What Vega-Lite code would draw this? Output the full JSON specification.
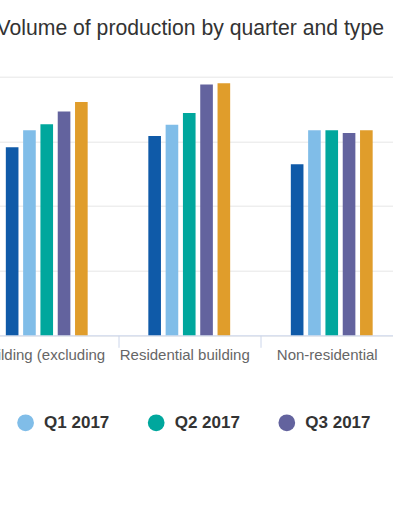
{
  "$schema": "https://vega.github.io/schema/vega-lite/v6.json",
  "autosize": "none",
  "width": 427.5,
  "height": 258.6,
  "padding": {"left": -24.5, "top": 76.7, "right": 0, "bottom": 171.7},
  "background": "white",
  "title": {
    "text": "Volume of production by quarter and type",
    "anchor": "middle",
    "font": "Liberation Sans",
    "fontSize": 21.2,
    "fontWeight": "normal",
    "color": "#333333",
    "baseline": "alphabetic",
    "offset": 20,
    "dx": 1
  },
  "data": {
    "values": [
      {"type": "Building (excluding", "quarter": "Q4 2016", "volume": 145.4},
      {"type": "Building (excluding", "quarter": "Q1 2017", "volume": 158.6},
      {"type": "Building (excluding", "quarter": "Q2 2017", "volume": 163.2},
      {"type": "Building (excluding", "quarter": "Q3 2017", "volume": 173.0},
      {"type": "Building (excluding", "quarter": "Q4 2017", "volume": 180.5},
      {"type": "Residential building", "quarter": "Q4 2016", "volume": 154.2},
      {"type": "Residential building", "quarter": "Q1 2017", "volume": 162.9},
      {"type": "Residential building", "quarter": "Q2 2017", "volume": 172.0},
      {"type": "Residential building", "quarter": "Q3 2017", "volume": 193.9},
      {"type": "Residential building", "quarter": "Q4 2017", "volume": 194.9},
      {"type": "Non-residential", "quarter": "Q4 2016", "volume": 132.3},
      {"type": "Non-residential", "quarter": "Q1 2017", "volume": 158.6},
      {"type": "Non-residential", "quarter": "Q2 2017", "volume": 158.6},
      {"type": "Non-residential", "quarter": "Q3 2017", "volume": 156.5},
      {"type": "Non-residential", "quarter": "Q4 2017", "volume": 158.6}
    ]
  },
  "mark": {"type": "bar"},
  "encoding": {
    "x": {
      "field": "type",
      "type": "nominal",
      "sort": null,
      "scale": {"paddingInner": 0, "paddingOuter": 0},
      "axis": {
        "title": null,
        "labelAngle": 0,
        "tickBand": "extent",
        "tickSize": 12,
        "tickColor": "#ccd6eb",
        "domainColor": "#ccd6eb",
        "labelFont": "Liberation Sans",
        "labelFontSize": 15,
        "labelColor": "#666666",
        "labelPadding": 0,
        "labelOffset": -5,
        "grid": false
      }
    },
    "xOffset": {
      "field": "quarter",
      "type": "nominal",
      "sort": null,
      "scale": {
        "domain": ["pad-start", "Q4 2016", "Q1 2017", "Q2 2017", "Q3 2017", "Q4 2017", "pad-end"],
        "paddingInner": 0.27,
        "paddingOuter": 0.753
      }
    },
    "y": {
      "field": "volume",
      "type": "quantitative",
      "scale": {"domain": [0, 200]},
      "axis": {
        "title": null,
        "values": [0, 50, 100, 150, 200],
        "labels": false,
        "ticks": false,
        "domain": false,
        "gridColor": "#e6e6e6"
      }
    },
    "color": {
      "field": "quarter",
      "type": "nominal",
      "sort": null,
      "scale": {
        "domain": ["Q4 2016", "Q1 2017", "Q2 2017", "Q3 2017", "Q4 2017"],
        "range": ["#0f5aa8", "#80bde8", "#00a79d", "#63639e", "#e09d2b"]
      },
      "legend": {
        "title": null,
        "orient": "none",
        "legendX": -89,
        "legendY": 337.5,
        "direction": "horizontal",
        "symbolType": "circle",
        "symbolSize": 280,
        "symbolStrokeWidth": 0,
        "labelFont": "Liberation Sans",
        "labelFontSize": 17,
        "labelFontWeight": "bold",
        "labelColor": "#333333",
        "labelOffset": 10,
        "columnPadding": 37.6
      }
    }
  },
  "config": {
    "view": {"stroke": null}
  }
}
